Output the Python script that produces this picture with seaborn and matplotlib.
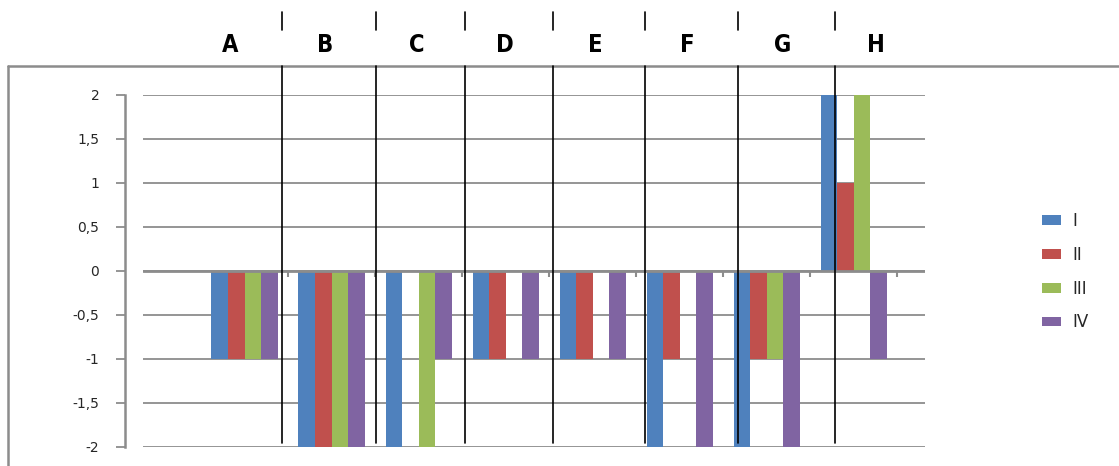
import matplotlib
import matplotlib.pyplot as plt
from matplotlib.lines import Line2D
import pandas as pd
import seaborn as sns

matplotlib.use("Agg")

# chart data
categories = ["A", "B", "C", "D", "E", "F", "G", "H"]
series_names = ["I", "II", "III", "IV"]
values_I = [-1, -2, -2, -1, -1, -2, -2, 2]
values_II = [-1, -2, 0, -1, -1, -1, -1, 1]
values_III = [-1, -2, -2, 0, 0, 0, -1, 2]
values_IV = [-1, -2, -1, -1, -1, -2, -2, -1]
y_ticks = [-2, -1.5, -1, -0.5, 0, 0.5, 1, 1.5, 2]
y_tick_labels = ["-2", "-1,5", "-1", "-0,5", "0", "0,5", "1", "1,5", "2"]

colors = ["#4F81BD", "#C0504D", "#9BBB59", "#8064A2"]
GRID = "#8C8C8C"
W, H = 1119, 466
# header cell borders (pixels) that sit above the plot, like sheet columns
HEADER_EDGES = [186, 282, 376, 465, 553, 645, 738, 835, 925]

sns.set_style("white")
plt.rcParams["font.family"] = ["DejaVu Sans"]

df = pd.DataFrame(
    {
        "category": categories * 4,
        "series": [s for s in series_names for _ in categories],
        "value": values_I + values_II + values_III + values_IV,
    }
)

fig = plt.figure(figsize=(W / 100, H / 100), dpi=100)
ax = fig.add_axes([143 / W, 1 - 447 / H, (925 - 143) / W, (447 - 95) / H])

sns.barplot(
    data=df,
    x="category",
    y="value",
    hue="series",
    palette=colors,
    width=0.76,
    gap=0,
    saturation=1,
    edgecolor="none",
    linewidth=0,
    ax=ax,
    legend=True,
)

ax.set_xlim(-1.166, 7.817)
ax.set_ylim(-2, 2)
ax.set_yticks(y_ticks)
ax.set_yticklabels(y_tick_labels, fontsize=13, color="#222222")
ax.set_xticks([])
ax.set_xlabel("")
ax.set_ylabel("")
ax.yaxis.grid(True, color=GRID, linewidth=1.3)
ax.set_axisbelow(True)
for side in ["top", "right", "bottom"]:
    ax.spines[side].set_visible(False)
ax.spines["left"].set_position(("outward", 13))
ax.spines["left"].set_color(GRID)
ax.spines["left"].set_linewidth(1.8)
ax.tick_params(axis="y", length=6.5, width=1.3, color=GRID, pad=12, left=True)

# category axis at zero with small boundary ticks
ax.axhline(0, color=GRID, linewidth=2, zorder=1)
ax.vlines([k + 0.5 for k in range(len(categories))], -0.07, 0, color=GRID, linewidth=1.5)

# legend on the right
handles, labels = ax.get_legend_handles_labels()
ax.get_legend().remove()
fig.legend(
    handles,
    labels,
    loc="upper left",
    bbox_to_anchor=(1027 / W, 1 - 197 / H),
    frameon=False,
    fontsize=12,
    labelspacing=0.95,
    handlelength=1.15,
    handleheight=0.5,
    handletextpad=0.7,
)

# outer chart frame
fig.add_artist(Line2D([8 / W, 8 / W], [0, 1 - 66 / H], color=GRID, linewidth=1.8))
fig.add_artist(Line2D([8 / W, 1], [1 - 66 / H, 1 - 66 / H], color=GRID, linewidth=1.8))

# header cells with the category names
for edge in HEADER_EDGES[1:-1]:
    fig.add_artist(Line2D([edge / W] * 2, [1 - 443 / H, 1 - 66 / H], color="black", linewidth=1.2))
    fig.add_artist(Line2D([edge / W] * 2, [1 - 30 / H, 1 - 12 / H], color="black", linewidth=1.2))
for cat, left, right in zip(categories, HEADER_EDGES[:-1], HEADER_EDGES[1:]):
    fig.text((left + right) / 2 / W - 4 / W, 1 - 45 / H, cat, ha="center", va="center",
             fontsize=17, fontweight="bold", fontstretch="condensed",
             family=["Liberation Sans Narrow", "DejaVu Sans"], color="black")

fig.savefig("out.png", dpi=100)
